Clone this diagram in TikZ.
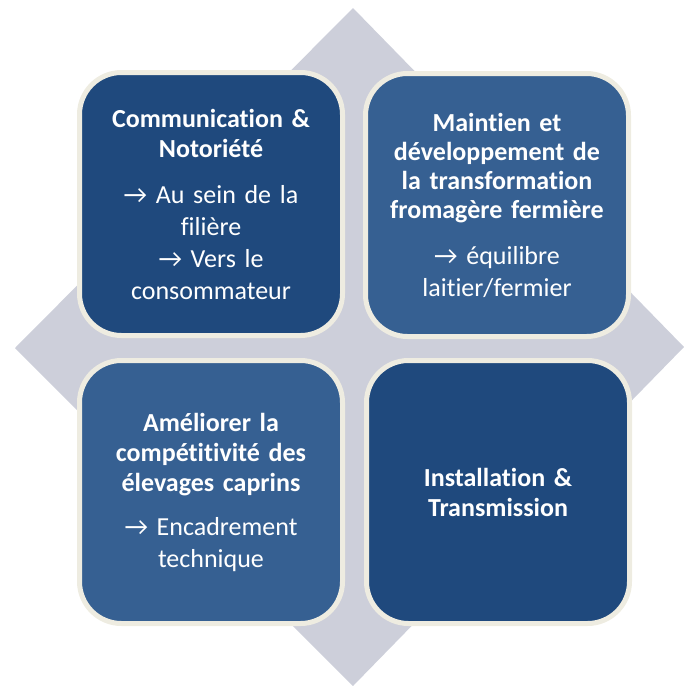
\documentclass[tikz,border=0pt]{standalone}
\usepackage{fontspec}
\setmainfont{Carlito}[Ligatures={NoCommon,NoContextual}]
\definecolor{boxdark}{RGB}{31,73,125}
\definecolor{boxlight}{RGB}{54,96,146}
\definecolor{diamondgray}{RGB}{205,207,218}
\definecolor{rimcream}{RGB}{238,236,225}
\tikzset{
  box/.style={
    rounded corners=42pt,
    line width=5pt,
    draw=rimcream,
    minimum width=263pt,
    minimum height=263pt,
    inner sep=0pt,
    text width=250pt,
    align=center,
    text=white,
    font=\fontsize{26}{32}\selectfont
  },
  box-dark/.style={box, fill=boxdark},
  box-light/.style={box, fill=boxlight}
}
\newcommand{\boxtitle}[1]{{\bfseries #1}}

\begin{document}
\begin{tikzpicture}[x=1pt,y=-1pt]
  \useasboundingbox (0,0) rectangle (684,686);

  % Background diamond
  \fill[diamondgray] (15,348) -- (353,8) -- (684,347) -- (353,686) -- cycle;

  % Four quadrants
  \node[box-dark] (com) at (211,204)
    {\boxtitle{Communication \&}\\[-2pt]
     \boxtitle{Notoriété}\\[14pt]
     → Au sein de la\\ filière\\ → Vers le\\ consommateur};
  \node[box-light] (fro) at (497,205)
    {\boxtitle{Maintien et}\\[-3pt]
     \boxtitle{développement de}\\[-3pt]
     \boxtitle{la transformation}\\[-3pt]
     \boxtitle{fromagère fermière}\\[14pt]
     → équilibre\\ laitier/fermier};
  \node[box-light] (ele) at (211,492)
    {\boxtitle{Améliorer la}\\[-2pt]
     \boxtitle{compétitivité des}\\[-2pt]
     \boxtitle{élevages caprins}\\[12pt]
     → Encadrement\\ technique};
  \node[box-dark] (ins) at (498,492)
    {\boxtitle{Installation \&}\\[-2pt]
     \boxtitle{Transmission}};

\end{tikzpicture}
\end{document}
